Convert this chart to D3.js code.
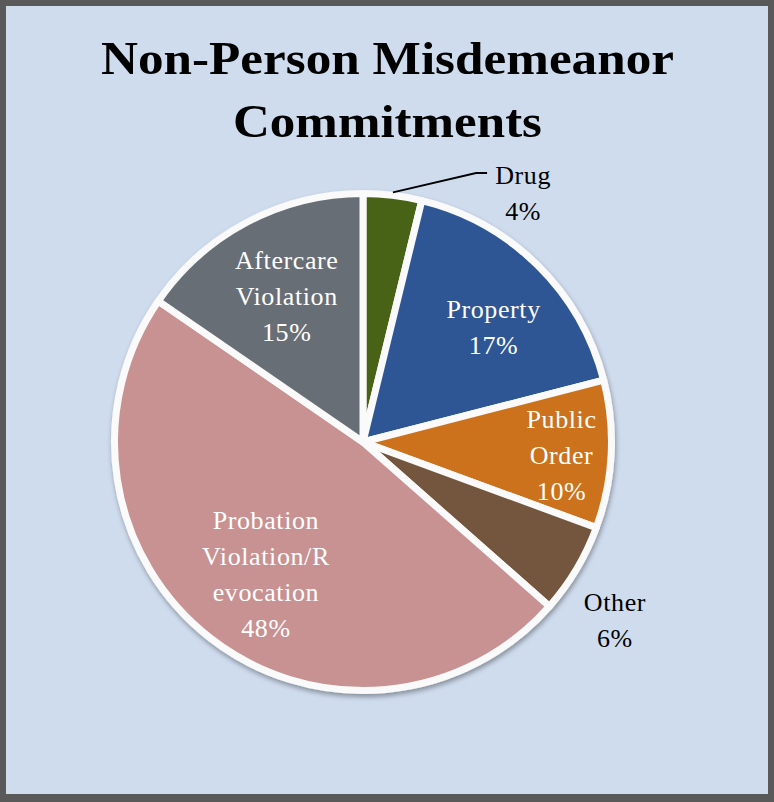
<!DOCTYPE html>
<html>
<head>
<meta charset="utf-8">
<script src="https://cdn.jsdelivr.net/npm/d3@7"></script>
<style>
  html, body { margin: 0; padding: 0; background: #ffffff; }
  svg { display: block; }
</style>
</head>
<body>
<div id="chart"></div>
<script>
// ---- data ----
const titleLines = ["Non-Person Misdemeanor", "Commitments"];
const categories = ["Drug", "Property", "Public Order", "Other", "Probation Violation/Revocation", "Aftercare Violation"];
const values = [3.8, 17.2, 9.6, 5.9, 48.1, 15.4];
const labelLines = [["Drug"], ["Property"], ["Public", "Order"], ["Other"], ["Probation", "Violation/R", "evocation"], ["Aftercare", "Violation"]];
const colors = ["#4a6419", "#2e5795", "#cc721e", "#73573c", "#c89292", "#686e74"];

// ---- layout ----
const W = 774, H = 802;
const cx = 363, cy = 442, R = 248.5;
const lineGap = 36;
// label placement: radius (px from centre), angle offset (deg), outside?
const labelPlace = [
  { r: 296, dA: 25.9, outside: true },
  { r: 174, dA: 4.0, outside: false },
  { r: 199, dA: 1.1, outside: false },
  { r: 309, dA: 4.6, outside: true },
  { r: 164, dA: -1.7, outside: false },
  { r: 164, dA: 0.0, outside: false }
];

const svg = d3.select("#chart").append("svg")
  .attr("width", W).attr("height", H)
  .attr("viewBox", `0 0 ${W} ${H}`);

const defs = svg.append("defs");
const f = defs.append("filter").attr("id", "shadow")
  .attr("x", "-10%").attr("y", "-10%").attr("width", "120%").attr("height", "120%");
f.append("feDropShadow").attr("dx", 1).attr("dy", 3).attr("stdDeviation", 2.5)
  .attr("flood-color", "#000").attr("flood-opacity", 0.35);

// background + frame
svg.append("rect").attr("x", 0).attr("y", 0).attr("width", W).attr("height", H).attr("fill", "#595959");
svg.append("rect").attr("x", 6).attr("y", 6).attr("width", W - 12).attr("height", H - 14).attr("fill", "#cfdcee");

// title
const title = svg.append("g");
const titleY = [74, 137];
const titleW = [573, 309];
titleLines.forEach((t, i) => {
  title.append("text")
    .attr("x", 387.5).attr("y", titleY[i])
    .attr("text-anchor", "middle")
    .attr("font-family", "'Liberation Serif', 'Times New Roman', serif")
    .attr("font-weight", "bold")
    .attr("font-size", 47)
    .attr("textLength", titleW[i])
    .attr("lengthAdjust", "spacingAndGlyphs")
    .attr("fill", "#000")
    .text(t);
});

// pie
const pie = d3.pie().sort(null).value(d => d)(values);
const arc = d3.arc().innerRadius(0).outerRadius(R);

const g = svg.append("g").attr("transform", `translate(${cx},${cy})`);
const sl = g.append("g").attr("filter", "url(#shadow)");
sl.selectAll("path").data(pie).enter().append("path")
  .attr("d", arc)
  .attr("fill", (d, i) => colors[i])
  .attr("stroke", "#fafafa")
  .attr("stroke-width", 7)
  .attr("stroke-linejoin", "round");

function polar(angle, r) {
  return [r * Math.sin(angle), -r * Math.cos(angle)];
}

const total = d3.sum(values);
const fmt = v => Math.round(v / total * 100) + "%";

pie.forEach((d, i) => {
  const mid = (d.startAngle + d.endAngle) / 2;
  const p = labelPlace[i];
  const [lx, ly] = polar(mid + p.dA * Math.PI / 180, p.r);
  const lines = labelLines[i].concat([fmt(d.value)]);
  const n = lines.length;
  const t = g.append("text")
    .attr("text-anchor", "middle")
    .attr("font-family", "'Liberation Serif', 'Times New Roman', serif")
    .attr("font-size", 26)
    .attr("letter-spacing", 0.6)
    .attr("fill", p.outside ? "#000" : "#ffffff");
  lines.forEach((s, j) => {
    t.append("tspan")
      .attr("x", lx)
      .attr("y", ly + (j - (n - 1) / 2) * lineGap + 8.5)
      .text(s);
  });
  if (i === 0) {
    // leader line for the small Drug slice
    const [sx, sy] = polar(mid, R + 3);
    const ex = lx - 36, ey = ly - 20;
    g.append("path")
      .attr("d", `M${sx},${sy} L${ex - 11},${ey} L${ex},${ey}`)
      .attr("fill", "none")
      .attr("stroke", "#000")
      .attr("stroke-width", 1.8);
  }
});
</script>
</body>
</html>
